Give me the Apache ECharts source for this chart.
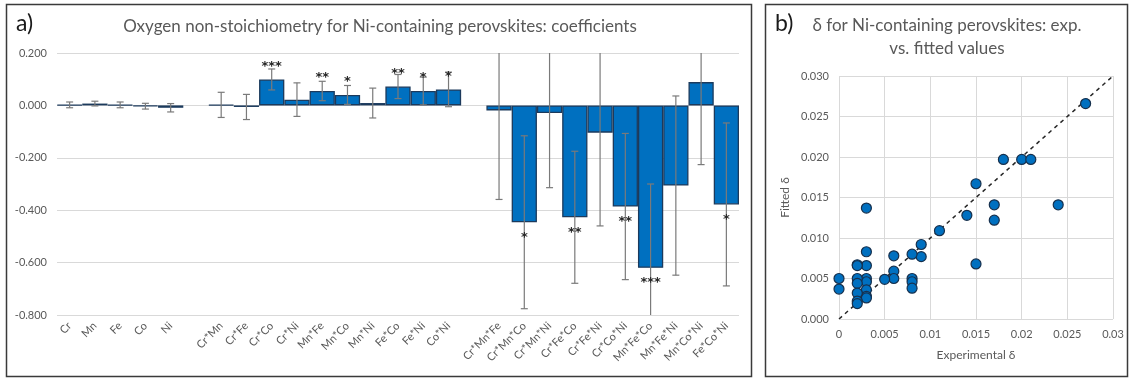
<!DOCTYPE html>
<html>
<head>
<meta charset="utf-8">
<title>Ni-containing perovskites: oxygen non-stoichiometry</title>
<script src="https://cdn.jsdelivr.net/npm/echarts@6/dist/echarts.min.js"></script>
<style>
  html, body { margin: 0; padding: 0; background: #ffffff; }
  #chart { width: 1129px; height: 378px; }
</style>
</head>
<body>
<div id="chart"></div>
<script>
// ---- a) regression coefficients (blank entries separate the term groups) ----
const terms = ['Cr', 'Mn', 'Fe', 'Co', 'Ni', '',
  'Cr*Mn', 'Cr*Fe', 'Cr*Co', 'Cr*Ni', 'Mn*Fe', 'Mn*Co', 'Mn*Ni', 'Fe*Co', 'Fe*Ni', 'Co*Ni', '',
  'Cr*Mn*Fe', 'Cr*Mn*Co', 'Cr*Mn*Ni', 'Cr*Fe*Co', 'Cr*Fe*Ni', 'Cr*Co*Ni', 'Mn*Fe*Co', 'Mn*Fe*Ni', 'Mn*Co*Ni', 'Fe*Co*Ni'];
const coef = [0.002, 0.007, 0.002, -0.003, -0.009, null,
  0.002, -0.006, 0.099, 0.022, 0.055, 0.040, 0.009, 0.072, 0.055, 0.061, null,
  -0.019, -0.446, -0.029, -0.427, -0.104, -0.386, -0.620, -0.306, 0.089, -0.378];
const coefErr = [0.011, 0.009, 0.011, 0.011, 0.016, null,
  0.048, 0.048, 0.040, 0.064, 0.037, 0.036, 0.057, 0.046, 0.053, 0.066, null,
  0.340, 0.330, 0.285, 0.252, 0.356, 0.279, 0.320, 0.342, 0.315, 0.311];
const significance = ['', '', '', '', '', '',
  '', '', '***', '', '**', '*', '', '**', '*', '*', '',
  '', '*', '', '**', '', '**', '***', '', '', '*'];
const coefTicks = { min: -0.8, max: 0.2, step: 0.2 };

// ---- b) experimental vs fitted delta ----
const expDelta = [0.027, 0.018, 0.020, 0.021, 0.015, 0.017, 0.017, 0.014, 0.024, 0.015,
  0.011, 0.009, 0.009, 0.008, 0.008, 0.008, 0.008, 0.006, 0.006, 0.006,
  0.005, 0.003, 0.003, 0.003, 0.003, 0.003, 0.003, 0.003, 0.003, 0.002,
  0.002, 0.002, 0.002, 0.002, 0.002, 0.002, 0.000, 0.000];
const fitDelta = [0.0266, 0.0197, 0.0197, 0.0197, 0.0167, 0.0141, 0.0122, 0.0128, 0.0141, 0.0068,
  0.0109, 0.0092, 0.0077, 0.0080, 0.0050, 0.0046, 0.0038, 0.0078, 0.0059, 0.0050,
  0.0049, 0.0137, 0.0083, 0.0066, 0.0050, 0.0046, 0.0036, 0.0028, 0.0026, 0.0067,
  0.0066, 0.0050, 0.0044, 0.0032, 0.0022, 0.0019, 0.0050, 0.0037];
const deltaTicks = { min: 0, max: 0.03, step: 0.005 };

const FONT = 'Lato, "Open Sans", sans-serif';
const GREY_TEXT = '#595959';
const GRID_LINE = '#d9d9d9';
const BAR_BLUE = '#0070c0';
const BAR_EDGE = '#1c3a5c';

const fixed3 = v => (Math.round(v * 1000) / 1000).toFixed(3);

const errData = [];
const starData = [];
coef.forEach((c, i) => {
  if (c === null) return;
  errData.push([i, c - coefErr[i], c + coefErr[i]]);
  if (significance[i]) starData.push([i, c, significance[i]]);
});

const chart = echarts.init(document.getElementById('chart'), null, { renderer: 'canvas' });

chart.setOption({
  animation: false,
  backgroundColor: '#ffffff',
  textStyle: { fontFamily: FONT },
  grid: [
    { left: 57, right: 390, top: 53, bottom: 63 },
    { left: 839, right: 16, top: 76, bottom: 59 }
  ],
  xAxis: [
    {
      type: 'category', gridIndex: 0, data: terms,
      axisLine: { show: false }, axisTick: { show: false },
      axisLabel: { interval: 0, rotate: 45, fontSize: 11, color: GREY_TEXT, margin: 9, fontFamily: FONT },
      splitLine: { show: false }
    },
    {
      type: 'value', gridIndex: 1,
      min: deltaTicks.min, max: deltaTicks.max, interval: deltaTicks.step,
      name: 'Experimental δ', nameLocation: 'middle', nameGap: 30,
      nameTextStyle: { fontSize: 12, color: GREY_TEXT, fontFamily: FONT },
      axisLine: { show: false }, axisTick: { show: false },
      axisLabel: { fontSize: 11, color: GREY_TEXT, margin: 10, fontFamily: FONT },
      splitLine: { show: true, lineStyle: { color: GRID_LINE, width: 1 } }
    }
  ],
  yAxis: [
    {
      type: 'value', gridIndex: 0,
      min: coefTicks.min, max: coefTicks.max, interval: coefTicks.step,
      axisLine: { show: false }, axisTick: { show: false },
      axisLabel: { fontSize: 11, color: GREY_TEXT, margin: 10, formatter: fixed3, fontFamily: FONT },
      splitLine: { show: true, lineStyle: { color: GRID_LINE, width: 1 } }
    },
    {
      type: 'value', gridIndex: 1,
      min: deltaTicks.min, max: deltaTicks.max, interval: deltaTicks.step,
      name: 'Fitted δ', nameLocation: 'middle', nameGap: 48,
      nameTextStyle: { fontSize: 12, color: GREY_TEXT, fontFamily: FONT },
      axisLine: { show: false }, axisTick: { show: false },
      axisLabel: { fontSize: 11, color: GREY_TEXT, margin: 10, formatter: fixed3, fontFamily: FONT },
      splitLine: { show: true, lineStyle: { color: GRID_LINE, width: 1 } }
    }
  ],
  series: [
    {
      name: 'coefficient', type: 'bar', xAxisIndex: 0, yAxisIndex: 0,
      data: coef, barCategoryGap: '0%', barGap: '0%',
      itemStyle: { color: BAR_BLUE, borderColor: BAR_EDGE, borderWidth: 1.3 },
      z: 2
    },
    {
      name: 'std. error', type: 'custom', xAxisIndex: 0, yAxisIndex: 0,
      data: errData, clip: true, z: 3,
      encode: { x: 0, y: [1, 2] },
      renderItem: (params, api) => {
        const lo = api.coord([api.value(0), api.value(1)]);
        const hi = api.coord([api.value(0), api.value(2)]);
        const cap = 3.5;
        const style = { stroke: '#7a7a7a', lineWidth: 1.2 };
        return {
          type: 'group',
          children: [
            { type: 'line', shape: { x1: lo[0], y1: lo[1], x2: hi[0], y2: hi[1] }, style },
            { type: 'line', shape: { x1: lo[0] - cap, y1: lo[1], x2: lo[0] + cap, y2: lo[1] }, style },
            { type: 'line', shape: { x1: hi[0] - cap, y1: hi[1], x2: hi[0] + cap, y2: hi[1] }, style }
          ]
        };
      }
    },
    {
      name: 'significance', type: 'custom', xAxisIndex: 0, yAxisIndex: 0,
      data: starData, z: 4, silent: true,
      encode: { x: 0, y: 1 },
      renderItem: (params, api) => {
        const v = api.value(1);
        const p = api.coord([api.value(0), v]);
        const label = starData[params.dataIndex][2];
        return {
          type: 'text',
          x: p[0],
          y: v >= 0 ? p[1] - 13 : p[1] + 15,
          style: {
            text: label, fill: '#262626',
            font: 'bold 13px "DejaVu Sans", sans-serif',
            textAlign: 'center', textVerticalAlign: 'middle'
          }
        };
      }
    },
    {
      name: 'ideal fit', type: 'line', xAxisIndex: 1, yAxisIndex: 1,
      data: [[deltaTicks.min, deltaTicks.min], [deltaTicks.max, deltaTicks.max]],
      symbol: 'none', silent: true, z: 2,
      lineStyle: { color: '#262626', width: 1.5, type: [4, 4] }
    },
    {
      name: 'samples', type: 'scatter', xAxisIndex: 1, yAxisIndex: 1,
      data: expDelta.map((x, i) => [x, fitDelta[i]]),
      symbol: 'circle', symbolSize: 10, z: 3,
      itemStyle: { color: BAR_BLUE, borderColor: '#16304d', borderWidth: 1.2, opacity: 1 }
    }
  ],
  graphic: [
    { type: 'rect', shape: { x: 6.5, y: 4.5, width: 745, height: 372 },
      style: { fill: 'none', stroke: '#3a3a3a', lineWidth: 1.5 }, z: 10 },
    { type: 'rect', shape: { x: 765.5, y: 4.5, width: 362, height: 372 },
      style: { fill: 'none', stroke: '#3a3a3a', lineWidth: 1.5 }, z: 10 },
    { type: 'text', x: 16, y: 24, z: 10,
      style: { text: 'a)', font: '23px ' + FONT, fill: '#1a1a1a', textVerticalAlign: 'middle' } },
    { type: 'text', x: 775, y: 24, z: 10,
      style: { text: 'b)', font: '23px ' + FONT, fill: '#1a1a1a', textVerticalAlign: 'middle' } },
    { type: 'text', x: 380, y: 27, z: 10,
      style: { text: 'Oxygen non-stoichiometry for Ni-containing perovskites: coefficients',
        font: '17px ' + FONT, fill: GREY_TEXT, textAlign: 'center', textVerticalAlign: 'middle' } },
    { type: 'text', x: 947, y: 26, z: 10,
      style: { text: 'δ for Ni-containing perovskites: exp.',
        font: '17px ' + FONT, fill: GREY_TEXT, textAlign: 'center', textVerticalAlign: 'middle' } },
    { type: 'text', x: 947, y: 49, z: 10,
      style: { text: 'vs. fitted values',
        font: '17px ' + FONT, fill: GREY_TEXT, textAlign: 'center', textVerticalAlign: 'middle' } }
  ]
});
</script>
</body>
</html>
